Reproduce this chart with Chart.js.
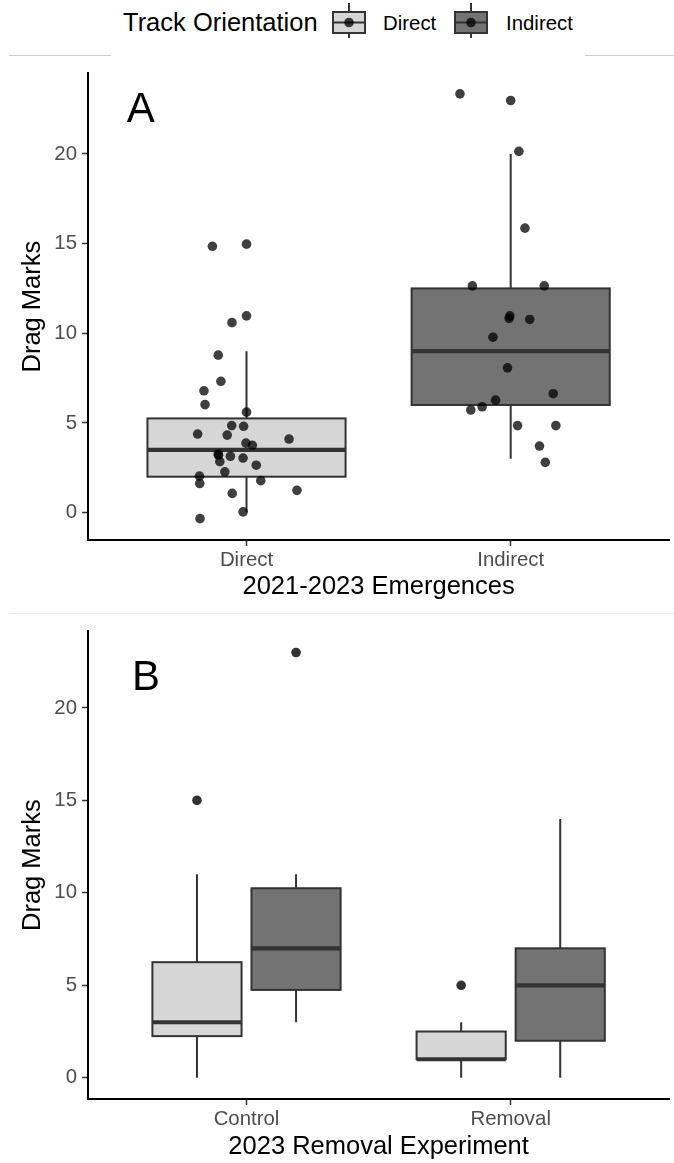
<!DOCTYPE html>
<html>
<head>
<meta charset="utf-8">
<script src="https://cdn.jsdelivr.net/npm/chart.js@4/dist/chart.umd.min.js"></script>
<style>
  html,body{margin:0;padding:0;background:#fff;}
  body{width:674px;height:1163px;position:relative;overflow:hidden;font-family:"Liberation Sans",Arial,sans-serif;}
  .abs{position:absolute;white-space:nowrap;}
  canvas{position:absolute;left:0;}
</style>
</head>
<body>
<!-- separators -->
<div class="abs" style="left:9px;top:55px;width:665px;height:1px;background:#cfcfcf"></div>
<div class="abs" style="left:9px;top:613px;width:665px;height:1px;background:#ececec"></div>
<!-- legend box -->
<div class="abs" style="left:111px;top:0;width:474px;height:57px;background:#fff"></div>
<div class="abs" style="left:123px;top:7px;font-size:25.5px;line-height:30px;color:#000">Track Orientation</div>
<svg class="abs" width="40" height="42" style="left:329px;top:0">
  <line x1="20" y1="3" x2="20" y2="38" stroke="#333" stroke-width="2"/>
  <rect x="4" y="12" width="32" height="21" fill="#d6d6d6" stroke="#333" stroke-width="2"/>
  <line x1="4" y1="22.5" x2="36" y2="22.5" stroke="#333" stroke-width="2"/>
  <circle cx="20" cy="22.5" r="4.8" fill="rgba(0,0,0,0.75)"/>
</svg>
<div class="abs" style="left:383px;top:10.5px;font-size:20.4px;line-height:24px;color:#000">Direct</div>
<svg class="abs" width="40" height="42" style="left:451px;top:0">
  <line x1="20" y1="3" x2="20" y2="38" stroke="#333" stroke-width="2"/>
  <rect x="4" y="12" width="32" height="21" fill="#737373" stroke="#333" stroke-width="2"/>
  <line x1="4" y1="22.5" x2="36" y2="22.5" stroke="#333" stroke-width="2"/>
  <circle cx="20" cy="22.5" r="4.8" fill="rgba(0,0,0,0.75)"/>
</svg>
<div class="abs" style="left:506px;top:10.5px;font-size:20.4px;line-height:24px;color:#000">Indirect</div>

<canvas id="chartA" width="674" height="556" style="top:56px"></canvas>
<canvas id="chartB" width="674" height="549" style="top:614px"></canvas>

<script>
// ---------------- DATA ----------------
const orientations = ['Direct', 'Indirect'];
const yTickValues = [0, 5, 10, 15, 20];

// Panel A: 2021-2023 Emergences (box statistics per orientation)
const emergenceCats = ['Direct', 'Indirect'];
const emergLow  = [0, 3];
const emergQ1   = [2, 6];
const emergMed  = [3.5, 9];
const emergQ3   = [5.25, 12.5];
const emergHigh = [9, 20];

// Panel A jittered observations (x = jittered category position, y = drag marks)
const directJitterX = [0.871, 1.0, 1.0, 0.945, 0.893, 0.903, 0.839, 0.843, 1.0, 0.944, 0.989, 0.815, 0.927, 1.161, 0.998, 1.022, 0.893, 0.894, 0.939, 0.987, 0.899, 1.037, 0.918, 0.822, 0.823, 1.054, 1.191, 0.946, 0.987, 0.824];
const directValues  = [14.85, 14.97, 10.97, 10.59, 8.78, 7.32, 6.79, 6.02, 5.60, 4.85, 4.81, 4.38, 4.32, 4.10, 3.87, 3.75, 3.27, 3.20, 3.14, 3.04, 2.84, 2.64, 2.27, 2.03, 1.62, 1.78, 1.24, 1.07, 0.04, -0.34];
const indirectJitterX = [1.808, 2.0, 2.031, 2.054, 1.855, 2.127, 1.997, 1.994, 2.072, 1.933, 1.988, 2.161, 1.943, 1.892, 1.849, 2.026, 2.171, 2.109, 2.131];
const indirectValues  = [23.35, 22.98, 20.14, 15.86, 12.64, 12.64, 10.97, 10.83, 10.77, 9.78, 8.07, 6.63, 6.27, 5.90, 5.72, 4.85, 4.85, 3.71, 2.80];

// Panel B: 2023 Removal Experiment
const removalCats = ['Control', 'Removal'];
const directLowB  = [0, 0];
const directQ1B   = [2.25, 1];
const directMedB  = [3, 1];
const directQ3B   = [6.25, 2.5];
const directHighB = [11, 3];
const indirectLowB  = [3, 0];
const indirectQ1B   = [4.75, 2];
const indirectMedB  = [7, 5];
const indirectQ3B   = [10.25, 7];
const indirectHighB = [11, 14];
const outlierGroupB  = ['Control', 'Removal', 'Control'];
const outlierOrientB = ['Direct', 'Direct', 'Indirect'];
const outlierValueB  = [15, 5, 23];

// ---------------- STYLE ----------------
const FONT = '"Liberation Sans", Arial, sans-serif';
const fills = { Direct: '#d6d6d6', Indirect: '#737373' };
const LINE = '#333333';

function makeBoxPlugin(boxes, label) {
  return {
    id: 'boxplotDraw',
    beforeDatasetsDraw(chart) {
      const { ctx, scales: { x, y } } = chart;
      ctx.save();
      ctx.lineCap = 'butt';
      for (const b of boxes) {
        const cx = x.getPixelForValue(b.pos);
        const l = x.getPixelForValue(b.pos - b.width / 2);
        const r = x.getPixelForValue(b.pos + b.width / 2);
        const yq1 = y.getPixelForValue(b.q1), yq3 = y.getPixelForValue(b.q3);
        const ylo = y.getPixelForValue(b.lo), yhi = y.getPixelForValue(b.hi);
        const ymed = y.getPixelForValue(b.med);
        ctx.strokeStyle = LINE;
        ctx.lineWidth = 2;
        ctx.beginPath();
        ctx.moveTo(cx, yhi); ctx.lineTo(cx, yq3);
        ctx.moveTo(cx, yq1); ctx.lineTo(cx, ylo);
        ctx.stroke();
        ctx.fillStyle = b.fill;
        ctx.fillRect(l, yq3, r - l, yq1 - yq3);
        ctx.strokeRect(l, yq3, r - l, yq1 - yq3);
        ctx.lineWidth = 4.2;
        ctx.beginPath();
        ctx.moveTo(l, ymed); ctx.lineTo(r, ymed);
        ctx.stroke();
      }
      ctx.restore();
    },
    afterDatasetsDraw(chart) {
      const { ctx, scales: { x, y } } = chart;
      ctx.save();
      ctx.font = '42px ' + FONT;
      ctx.fillStyle = '#000';
      ctx.textAlign = 'center';
      ctx.textBaseline = 'middle';
      ctx.fillText(label.text, x.getPixelForValue(label.x), y.getPixelForValue(label.y));
      ctx.restore();
    }
  };
}

function axisOptions(cats, xTitle, yMin, yMax, xAxisHeight, xTitlePadBottom) {
  return {
    x: {
      type: 'linear', min: 0.4, max: 2.6,
      afterBuildTicks: s => { s.ticks = cats.map((c, i) => ({ value: i + 1 })); },
      afterFit: s => { s.height = xAxisHeight; },
      ticks: {
        callback: v => cats[Math.round(v) - 1],
        font: { family: FONT, size: 20.4 }, color: '#4d4d4d', padding: 2,
        autoSkip: false, maxRotation: 0, minRotation: 0
      },
      grid: { drawOnChartArea: false, drawTicks: true, tickLength: 6, tickColor: LINE, tickWidth: 1.5 },
      border: { display: true, color: '#000', width: 2 },
      title: { display: true, text: xTitle, font: { family: FONT, size: 25.5 }, color: '#000', padding: { top: 0, bottom: xTitlePadBottom } }
    },
    y: {
      type: 'linear', min: yMin, max: yMax,
      afterBuildTicks: s => { s.ticks = yTickValues.map(v => ({ value: v })); },
      afterFit: s => { s.width = 88; },
      ticks: { font: { family: FONT, size: 20.4 }, color: '#4d4d4d', padding: 5 },
      grid: { drawOnChartArea: false, drawTicks: true, tickLength: 6, tickColor: LINE, tickWidth: 1.5 },
      border: { display: true, color: '#000', width: 2 },
      title: { display: true, text: 'Drag Marks', font: { family: FONT, size: 25.5 }, color: '#000', padding: { top: 17.7, bottom: 0 } }
    }
  };
}

const pointStyle = { pointRadius: 4.8, pointHoverRadius: 4.8, borderWidth: 0, showLine: false };

// ---------------- PANEL A ----------------
const boxesA = emergenceCats.map((c, i) => ({
  pos: i + 1, width: 0.75, lo: emergLow[i], q1: emergQ1[i], med: emergMed[i], q3: emergQ3[i], hi: emergHigh[i], fill: fills[c]
}));

new Chart(document.getElementById('chartA'), {
  type: 'scatter',
  data: {
    datasets: [
      Object.assign({ label: 'Direct', data: directValues.map((v, i) => ({ x: directJitterX[i], y: v })), backgroundColor: 'rgba(0,0,0,0.75)' }, pointStyle),
      Object.assign({ label: 'Indirect', data: indirectValues.map((v, i) => ({ x: indirectJitterX[i], y: v })), backgroundColor: 'rgba(0,0,0,0.75)' }, pointStyle)
    ]
  },
  options: {
    responsive: false, animation: false, devicePixelRatio: 1,
    layout: { padding: { top: 13, right: 0, bottom: 0, left: 0 } },
    plugins: { legend: { display: false }, tooltip: { enabled: false } },
    scales: axisOptions(emergenceCats, '2021-2023 Emergences', -1.53, 24.5, 72, 9.7)
  },
  plugins: [makeBoxPlugin(boxesA, { text: 'A', x: 0.6, y: 22.45 })]
});

// ---------------- PANEL B ----------------
const dodge = 0.1875, boxW = 0.3375;
const boxesB = [];
removalCats.forEach((c, i) => {
  boxesB.push({ pos: i + 1 - dodge, width: boxW, lo: directLowB[i], q1: directQ1B[i], med: directMedB[i], q3: directQ3B[i], hi: directHighB[i], fill: fills.Direct });
  boxesB.push({ pos: i + 1 + dodge, width: boxW, lo: indirectLowB[i], q1: indirectQ1B[i], med: indirectMedB[i], q3: indirectQ3B[i], hi: indirectHighB[i], fill: fills.Indirect });
});
const outlierPts = outlierValueB.map((v, i) => ({
  x: removalCats.indexOf(outlierGroupB[i]) + 1 + (outlierOrientB[i] === 'Direct' ? -dodge : dodge),
  y: v
}));

new Chart(document.getElementById('chartB'), {
  type: 'scatter',
  data: {
    datasets: [
      Object.assign({ label: 'Outliers', data: outlierPts, backgroundColor: LINE }, pointStyle)
    ]
  },
  options: {
    responsive: false, animation: false, devicePixelRatio: 1,
    layout: { padding: { top: 13, right: 0, bottom: 0, left: 0 } },
    plugins: { legend: { display: false }, tooltip: { enabled: false } },
    scales: axisOptions(removalCats, '2023 Removal Experiment', -1.15, 24.15, 64, 0.7)
  },
  plugins: [makeBoxPlugin(boxesB, { text: 'B', x: 0.62, y: 21.6 })]
});
</script>
</body>
</html>
